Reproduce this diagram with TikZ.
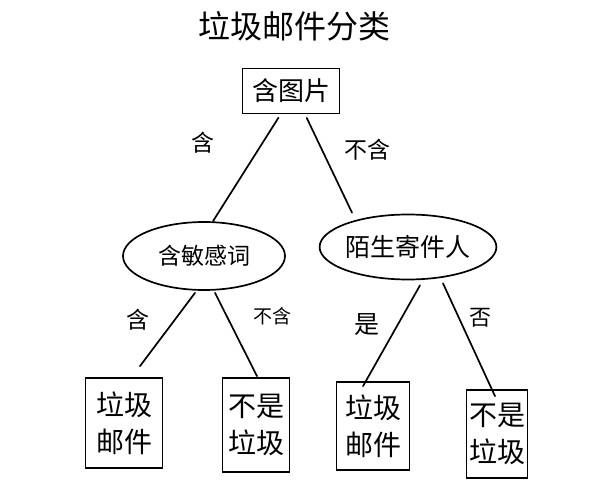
\documentclass[tikz,border=0pt]{standalone}
\usepackage{fontspec}
\newfontfamily\cjk{Noto Sans CJK SC}
\usetikzlibrary{shapes.geometric,calc}
\begin{document}
\begin{tikzpicture}[x=1pt,y=-1pt,line width=1.7pt,
  rootbox/.style={draw,rectangle,minimum width=97pt,minimum height=45pt,inner sep=0pt,font=\cjk\fontsize{26}{30}\selectfont},
  testnode/.style={draw,ellipse,inner sep=0pt},
  leafbox/.style={draw,rectangle,inner sep=0pt,align=center,font=\cjk\fontsize{28}{37}\selectfont},
  elabel/.style={font=\cjk\fontsize{23}{27}\selectfont},
  conn/.style={line cap=round}]
\useasboundingbox (0,0) rectangle (603,481);
\node[font=\cjk\fontsize{32}{36}\selectfont] (title) at (294,26) {垃圾邮件分类};
\node[rootbox] (root) at (291,91) {含图片};
\node[testnode,minimum width=162pt,minimum height=68pt,font=\cjk\fontsize{23}{27}\selectfont] (sens) at (204,256) {含敏感词};
\node[testnode,minimum width=173pt,minimum height=65pt,font=\cjk\fontsize{25}{29}\selectfont] (sender) at (408,247) {陌生寄件人};
\node[leafbox,minimum width=77pt,minimum height=90pt] (leaf1) at (124,423) {垃圾\\邮件};
\node[leafbox,minimum width=67pt,minimum height=94pt] (leaf2) at (256,425) {不是\\垃圾};
\node[leafbox,minimum width=73pt,minimum height=88pt] (leaf3) at (373,426) {垃圾\\邮件};
\node[leafbox,minimum width=61pt,minimum height=88pt] (leaf4) at (497,434) {不是\\垃圾};
\draw[conn,shorten <=4pt] (root.-114) -- ($(sens.north)+(9,0)$);
\draw[conn,shorten <=4pt] (root.-59) -- ($(sender.north)+(-56,-1)$);
\draw[conn] ($(sens.south)+(-9,2)$) -- ($(leaf1.north)+(16,-11)$);
\draw[conn] ($(sens.south)+(11,2)$) -- ($(leaf2.north)+(1,-1)$);
\draw[conn] ($(sender.south)+(12,5)$) -- ($(leaf3.north)+(-10,5)$);
\draw[conn] ($(sender.south)+(35,3)$) -- ($(leaf4.north)+(-2,7)$);
\node[elabel] (l1) at (203,143) {含};
\node[elabel] (l2) at (367,150) {不含};
\node[elabel] (l3) at (138,320) {含};
\node[elabel,font=\cjk\fontsize{19}{23}\selectfont] (l4) at (272,316) {不含};
\node[elabel,font=\cjk\fontsize{25}{29}\selectfont] (l5) at (367,325) {是};
\node[elabel,font=\cjk\fontsize{22}{26}\selectfont] (l6) at (480,318) {否};
\end{tikzpicture}
\end{document}
